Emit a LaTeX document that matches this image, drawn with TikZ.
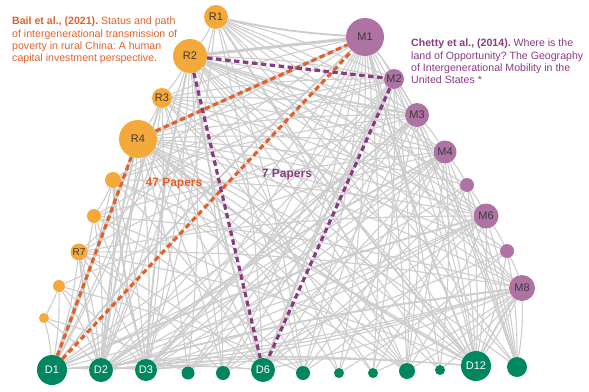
\documentclass[tikz,border=0pt]{standalone}
\usepackage{fontspec}
\setmainfont{Liberation Sans}
\usetikzlibrary{backgrounds}
\frenchspacing

\definecolor{rfill}{HTML}{F4A93B}
\definecolor{mfill}{HTML}{AE72A3}
\definecolor{dfill}{HTML}{00875F}
\definecolor{linkgray}{HTML}{CDCDCD}
\definecolor{baicol}{HTML}{E2612B}
\definecolor{chetcol}{HTML}{8A3A80}
\definecolor{labcol}{HTML}{3A3A3A}

\tikzset{
  ball/.style={circle, inner sep=0pt, font=\fontsize{11}{13}\selectfont},
  rnode/.style={ball, fill=rfill, text=labcol},
  mnode/.style={ball, fill=mfill, text=labcol},
  dnode/.style={ball, fill=dfill, text=white},
  link/.style={draw=linkgray, line width=1.1pt},
  midlink/.style={draw=linkgray, line width=1.9pt},
  fatlink/.style={draw=linkgray, line width=3pt},
  baipath/.style={draw=baicol, line width=3.2pt, dash pattern=on 5.5pt off 3.5pt},
  chetpath/.style={draw=chetcol, line width=3.2pt, dash pattern=on 5.5pt off 3.5pt},
  reftext/.style={anchor=north west, align=left, inner sep=0pt,
    font=\fontsize{10.6}{12.2}\selectfont},
}

\begin{document}
\begin{tikzpicture}[x=1pt, y=-1pt]
\useasboundingbox (0,0) rectangle (589,391);

% ===== Orange: R nodes =====
\node[rnode, minimum size=24] (R1) at (216,17) {R1};
\node[rnode, minimum size=34] (R2) at (190,56) {R2};
\node[rnode, minimum size=20] (R3) at (162,98) {R3};
\node[rnode, minimum size=38] (R4) at (138,139) {R4};
\node[rnode, minimum size=16] (R5) at (113,180) {};
\node[rnode, minimum size=14] (R6) at (94,216) {};
\node[rnode, minimum size=17, font=\fontsize{10}{12}\selectfont] (R7) at (79,252) {R7};
\node[rnode, minimum size=12] (R8) at (59,286) {};
\node[rnode, minimum size=10] (R9) at (44,318) {};

% ===== Purple: M nodes =====
\node[mnode, minimum size=38] (M1) at (365,37) {M1};
\node[mnode, minimum size=20] (M2) at (394,79) {M2};
\node[mnode, minimum size=24] (M3) at (417,115) {M3};
\node[mnode, minimum size=23] (M4) at (445,152) {M4};
\node[mnode, minimum size=14] (M5) at (467,185) {};
\node[mnode, minimum size=25] (M6) at (486,216) {M6};
\node[mnode, minimum size=14] (M7) at (507,251) {};
\node[mnode, minimum size=26] (M8) at (522,288) {M8};

% ===== Green: D nodes =====
\node[dnode, minimum size=30] (D1) at (52,370) {D1};
\node[dnode, minimum size=24] (D2) at (101,370) {D2};
\node[dnode, minimum size=22] (D3) at (146,370) {D3};
\node[dnode, minimum size=13] (D4) at (188,373) {};
\node[dnode, minimum size=14] (D5) at (223,373) {};
\node[dnode, minimum size=24] (D6) at (263,370) {D6};
\node[dnode, minimum size=14] (D7) at (303,373) {};
\node[dnode, minimum size=10] (D8) at (339,373) {};
\node[dnode, minimum size=10] (D9) at (373,373) {};
\node[dnode, minimum size=16] (D10) at (407,371) {};
\node[dnode, minimum size=10] (D11) at (440,370) {};
\node[dnode, minimum size=30] (D12) at (476,366) {D12};
\node[dnode, minimum size=20] (D13) at (517,367) {};

% ===== Grey links =====
\begin{scope}[on background layer]
\foreach \src/\dsts in {
    R1/{M2,M3,M4,M6,M8,R2,D2,D3,D6,D7,D10,D12,D13},
    R2/{M2,M3,M4,M5,M6,M7,M8,R3,D1,D2,D3,D4,D5,D7,D8,D10,D11,D12,D13},
    R3/{M1,M2,M3,M4,M6,M8,R4,D1,D2,D3,D5,D6,D9,D10,D12},
    R4/{M2,M3,M4,M5,M6,M7,M8,D2,D3,D4,D5,D6,D7,D8,D9,D10,D11,D12,D13},
    R5/{M1,M2,M3,M6,R6,D1,D2,D3,D6,D10,D12},
    R6/{M2,M4,M8,D1,D2,D3,D7,D10},
    R7/{M1,M3,M6,M8,D1,D2,D3,D5,D6,D12},
    R8/{M4,R9,D1,D2,D3,D7},
    R9/{D1,D2,D4},
    M1/{M2,M3,D2,D3,D4,D5,D6,D7,D8,D9,D10,D11,D12,D13},
    M2/{M3,D1,D2,D3,D4,D5,D7,D9,D10,D12,D13},
    M3/{M4,D1,D2,D3,D4,D6,D8,D10,D12,D13},
    M4/{M5,D1,D2,D3,D5,D6,D7,D10,D11,D12,D13},
    M5/{M6,D2,D6,D9,D12,D13},
    M6/{M7,D1,D2,D3,D5,D7,D10,D12,D13},
    M7/{M8,D3,D8,D12,D13},
    M8/{D1,D2,D3,D6,D9,D10,D11,D12,D13},
    D1/{D2,D3,D12},
    D2/{D3,D6,D12},
    D3/{D6,D12}}
  \foreach \dst in \dsts
    \draw[link] (\src) to[bend left=5] (\dst);

\foreach \src/\dst in {R1/M1, R2/D3, R3/D2, R4/D2, R4/D12, R1/D12, M1/D12,
    M1/D1, M3/D3, M4/D2, M6/D1, M8/D2, R2/D6, R7/D2, R5/D3, M2/D6, R2/M3, M8/D12}
  \draw[midlink] (\src) to[bend right=4] (\dst);

\draw[fatlink] (R2) -- (M1);
\draw[fatlink] (R4) -- (D1);
\draw[fatlink] (R4) -- (M1);

% ===== Highlighted papers =====
\draw[baipath] (R4) -- (M1);
\draw[baipath] (D1) -- (R4);
\draw[baipath] (D1) -- (M1);
\draw[chetpath] (R2) -- (M2);
\draw[chetpath] (R2) -- (D6);
\draw[chetpath] (M2) -- (D6);
\end{scope}

% ===== Texts =====
\node[reftext, text=baicol] (bailtext) at (12,17)
  {\textbf{Bail et al., (2021).} Status and path\\
   of intergenerational transmission of\\
   poverty in rural China: A human\\
   capital investment perspective.};
\node[reftext, text=chetcol] (chettytext) at (411,39)
  {\textbf{Chetty et al., (2014).} Where is the\\
   land of Opportunity? The Geography\\
   of Intergenerational Mobility in the\\
   United States *};

\node[text=baicol, font=\bfseries\fontsize{12}{14}\selectfont] (bailcount) at (174,184) {47 Papers};
\node[text=chetcol, font=\bfseries\fontsize{12}{14}\selectfont] (chetcount) at (287,175) {7 Papers};

\end{tikzpicture}
\end{document}
